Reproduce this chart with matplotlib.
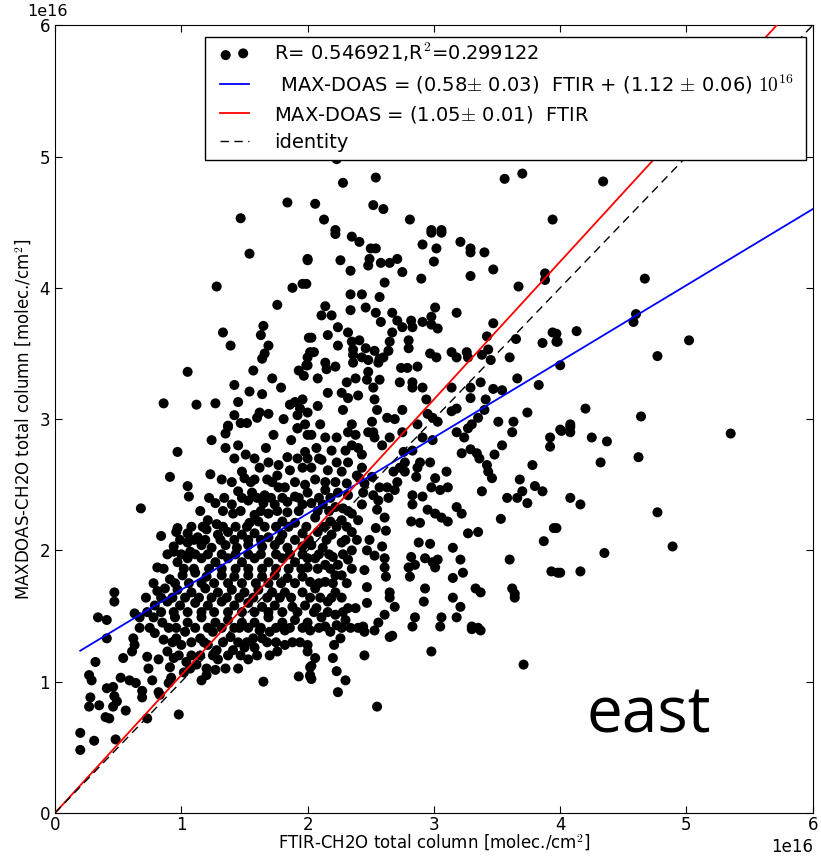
import numpy as np
import matplotlib
matplotlib.use("Agg")
import matplotlib.pyplot as plt
from matplotlib.patches import Rectangle

plt.rcParams['mathtext.fontset'] = 'cm'
plt.rcParams['font.family'] = ['DejaVu Sans']

SCALE = 1e16

# ---- data: (FTIR, MAX-DOAS) in units of 1e16 molec/cm2 ----
pts_top = [(1.47,4.53),(1.84,4.65),(2.23,4.98),(2.28,4.80),(2.54,4.84),(2.06,4.64),(2.52,4.63),
           (2.60,4.60),(2.13,4.52),(2.81,4.52),(2.98,4.44),(3.06,4.44),(3.56,4.83),(3.70,4.87),
           (3.94,4.52),(2.22,4.44),(4.34,4.81)]
pts_upleft = [(1.54,4.26),(2.00,4.22),(1.28,4.01),(1.88,4.00),(1.96,4.03),(1.76,3.87),(1.65,3.71),
              (1.33,3.66),(1.63,3.64),(1.39,3.56),(1.69,3.56),(1.66,3.50),(1.64,3.46),(2.01,3.62),
              (2.00,3.47),(2.00,3.41),(1.05,3.36),(1.57,3.37),(1.93,3.37),(1.97,3.33),(1.72,3.31),
              (1.42,3.26),(1.79,3.24),(1.54,3.21),(1.64,3.19),(0.86,3.12),(1.12,3.11),(1.27,3.12),
              (1.45,3.13),(1.86,3.11),(1.90,3.13),(1.96,3.15),(1.94,3.08),(1.42,3.03),(1.62,3.05),
              (1.69,3.04),(1.60,3.01),(1.92,3.03),(2.00,3.05),(1.81,3.00),(1.37,2.95),(1.47,2.97),
              (1.52,2.97),(1.92,2.93),(1.98,2.96)]
pts_upmid = [(2.22,4.41),(2.35,4.39),(2.41,4.35),(2.98,4.42),(3.06,4.42),(2.91,4.33),(3.02,4.30),
             (3.21,4.35),(3.29,4.30),(3.29,4.27),(3.40,4.27),(2.50,4.30),(2.54,4.30),(2.00,4.21),
             (2.26,4.21),(2.49,4.22),(2.48,4.17),(2.58,4.19),(2.65,4.19),(2.71,4.22),(2.75,4.12),
             (2.34,4.13),(3.00,4.20),(2.90,4.07),(3.29,4.09),(3.47,4.14),(2.61,4.04),(1.99,4.03),
             (2.34,3.95),(2.43,3.95),(2.57,3.93),(3.67,4.01),(3.88,4.11),(3.88,4.06),(2.14,3.86),
             (2.11,3.79),(2.19,3.79),(2.34,3.83),(2.46,3.85),(2.54,3.81),(2.58,3.74),(2.67,3.81),
             (2.71,3.75),(2.75,3.70),(2.82,3.75),(2.83,3.70),(2.91,3.74),(3.01,3.85),(2.98,3.78),
             (2.98,3.72),(3.03,3.69),(3.18,3.81),(3.47,3.73),(2.24,3.70),(2.32,3.66),(2.03,3.62),
             (2.16,3.64),(2.24,3.56),(2.35,3.59),(2.41,3.60),(2.36,3.53),(2.67,3.66),(2.65,3.59),
             (2.64,3.52),(2.80,3.60),(2.80,3.54),(2.46,3.54),(2.53,3.52),(2.57,3.46),(2.60,3.47),
             (2.02,3.51),(2.05,3.51),(1.99,3.41),(2.14,3.43),(2.15,3.38),(2.22,3.40),(2.36,3.49),
             (2.36,3.43),(2.43,3.47),(2.48,3.45),(2.48,3.36),(2.56,3.43),(2.97,3.50),(3.02,3.47),
             (3.14,3.51),(3.18,3.47),(3.26,3.51),(3.27,3.47),(3.38,3.49),(3.42,3.63),(3.43,3.53),
             (3.45,3.45),(3.60,3.47),(3.65,3.61),(3.86,3.58),(3.94,3.66),(3.97,3.59),(2.74,3.39),
             (2.79,3.39),(2.87,3.40),(2.08,3.31),(2.31,3.28),(2.38,3.31),(2.47,3.30),(2.57,3.30),
             (2.73,3.28),(2.83,3.28),(2.83,3.24),(2.91,3.24),(3.14,3.24),(3.29,3.24),(3.37,3.28),
             (3.47,3.23),(3.54,3.22),(3.66,3.31),(3.83,3.26),(2.16,3.20),(2.27,3.20),(2.40,3.18),
             (2.52,3.24),(2.32,3.16),(2.53,3.15),(2.94,3.15),(3.29,3.16),(3.41,3.15),(2.08,3.10),
             (2.28,3.07),(2.55,3.07),(2.75,3.07),(2.95,3.04),(2.99,3.01),(3.14,3.06),(3.18,3.08),
             (3.35,3.01),(3.40,3.07),(3.51,2.98),(3.63,2.98),(3.74,3.05),(2.10,2.96),(2.35,2.96),
             (2.51,2.98),(2.63,3.01),(2.69,3.00),(2.87,2.96),(3.03,2.98),(3.30,2.96)]
pts_right = [(4.67,4.07),(4.60,3.80),(4.58,3.74),(4.13,3.67),(3.97,3.65),(3.98,3.59),(5.02,3.60),
             (4.77,3.48),(4.00,3.41),(4.20,3.08),(4.64,3.02),(4.08,2.96),(4.00,2.92),(4.08,2.94),
             (4.01,2.91),(4.08,2.90),(4.25,2.86),(4.37,2.83),(5.35,2.89),(4.62,2.71),(4.32,2.67),
             (4.08,2.40),(4.16,2.35),(4.77,2.29),(3.97,2.17),(4.89,2.03),(4.35,1.98),(4.00,1.83),
             (4.16,1.84)]
pts_mid = [(3.92,2.86),(3.92,2.79),(3.62,2.90),(3.54,2.80),(3.48,2.73),(3.78,2.65),(3.68,2.54),
           (3.80,2.49),(3.86,2.45),(3.70,2.45),(3.66,2.40),(3.58,2.40),(3.74,2.36),(3.38,2.45),
           (3.53,2.24),(3.95,2.17),(3.87,2.07),(3.60,1.93),(3.93,1.84),(3.98,1.83),(3.62,1.71),
           (3.64,1.64),(3.64,1.67),(3.27,2.93),(3.29,2.77),(3.22,2.74),(3.34,2.74),(3.36,2.70),
           (3.42,2.65),(3.43,2.60),(3.46,2.55),(3.24,2.86),(3.18,2.90),(2.97,2.67),(3.10,2.60),
           (3.01,2.55),(2.98,2.48),(3.05,2.46),(3.11,2.48),(2.83,2.42),(2.91,2.41),(2.83,2.35),
           (2.95,2.31),(3.01,2.28),(3.06,2.25),(3.11,2.22),(3.18,2.33),(3.22,2.28),(2.82,2.22),
           (2.89,2.21),(3.27,2.13),(3.35,2.14),(2.88,2.06),(2.97,2.05),(3.15,2.02),(3.21,1.93),
           (2.82,1.95),(2.93,1.94),(2.99,1.91),(3.03,1.93),(2.80,1.87),(3.01,1.87),(2.85,1.89),
           (3.15,1.79),(3.23,1.83),(2.81,1.80),(3.33,1.71),(3.37,1.68),(2.93,1.71),(2.92,1.61),
           (3.15,1.64),(3.21,1.57),(2.65,1.68),(2.65,1.64),(2.69,1.57),(2.47,1.72),(2.47,1.60),
           (2.61,1.51),(2.85,1.49),(3.06,1.49),(3.18,1.49),(2.56,1.45),(2.44,1.42),(3.30,1.42),
           (3.35,1.41),(2.38,1.56),(2.61,1.94),(2.61,1.87),(2.62,1.80),(2.45,1.85),(2.53,1.96),
           (2.59,2.03),(2.49,2.08),(2.47,2.00),(2.61,2.25),(2.62,2.15),(2.54,2.17),(2.55,2.31),
           (2.64,2.40),(2.63,2.48),(2.69,2.46),(2.71,2.52),(2.68,2.60),(2.73,2.63),(2.77,2.60),
           (2.87,2.63),(2.89,2.67),(2.86,2.56),(2.83,2.76),(2.91,2.86),(2.99,2.84),(2.75,2.90),
           (2.76,2.75),(2.77,2.67),(2.57,2.48),(2.52,2.42),(2.56,2.38),(2.59,2.80),(2.65,2.86),
           (2.48,2.90),(2.43,2.73),(2.43,2.63),(2.41,2.55),(2.43,2.35),(2.40,2.23),(2.35,2.28),
           (2.35,2.14),(2.39,2.08),(2.35,2.00),(2.32,1.93),(2.24,1.89),(2.20,1.95),(2.14,1.89),
           (2.22,1.81),(2.27,1.81),(2.31,1.75),(2.14,1.76),(2.06,1.71),(2.22,1.68),(2.27,1.64),
           (2.16,1.61),(2.32,1.56),(2.07,1.56),(2.11,1.49),(2.22,1.51),(2.23,1.43),(2.40,1.41),
           (2.30,1.47),(2.02,1.76),(2.00,1.87),(2.02,1.64),(2.03,2.88),(2.14,2.86),(2.23,2.86),
           (2.32,2.90),(2.38,2.88),(2.52,2.90),(2.53,2.86),(2.07,2.78),(2.19,2.76),(2.30,2.76),
           (2.35,2.80),(2.40,2.78),(2.00,2.70),(2.11,2.69),(2.23,2.67),(2.32,2.67),(2.03,2.63),
           (2.16,2.61),(2.27,2.60),(2.39,2.57),(2.06,2.54),(2.22,2.52),(2.31,2.51),(2.45,2.51),
           (2.51,2.56),(2.00,2.44),(2.14,2.46),(2.24,2.44),(2.32,2.42),(2.44,2.44),(2.03,2.36),
           (2.12,2.35),(2.22,2.33),(2.28,2.32),(2.06,2.25),(2.18,2.22),(2.27,2.23),(2.08,2.14),
           (2.19,2.12),(2.27,2.06),(2.03,2.04),(2.12,2.02),(2.06,1.94)]
pts_core = [(0.97,2.75),(0.91,2.56),(1.05,2.49),(1.06,2.41),(0.68,2.32),(1.23,2.58),(1.32,2.54),
            (1.24,2.84),(1.35,2.89),(1.35,2.78),(1.45,2.80),(1.51,2.73),(1.37,2.94),(1.73,2.88),
            (1.67,2.78),(1.87,2.84),(1.92,2.93),(2.00,2.88),(1.98,2.75),(1.84,2.71),(1.77,2.65),
            (1.69,2.67),(1.62,2.63),(1.48,2.60),(1.86,2.61),(1.96,2.63),(1.50,2.55),(1.58,2.54),
            (1.68,2.54),(1.76,2.57),(1.82,2.48),(1.98,2.50),(1.45,2.45),(1.56,2.44),(1.66,2.42),
            (1.77,2.48),(1.90,2.41),(1.27,2.36),(1.40,2.35),(1.53,2.38),(1.65,2.36),(1.74,2.35),
            (1.84,2.37),(1.96,2.35),(1.41,2.28),(1.58,2.27),(1.69,2.28),(1.84,2.29),(1.21,2.23),
            (1.28,2.20),(1.54,2.21),(1.61,2.22),(1.80,2.22),(1.90,2.21),(0.84,2.11),(0.97,2.17),
            (0.96,2.14),(1.05,2.13),(1.13,2.10),(1.20,2.16),(1.29,2.12),(1.37,2.14),(1.48,2.12),
            (1.58,2.13),(1.69,2.10),(1.80,2.12),(1.96,2.13),(0.94,2.03),(0.94,1.99),(1.05,2.06),
            (1.07,1.99),(1.16,2.04),(1.24,2.02),(1.35,2.04),(1.44,2.02),(1.53,2.04),(1.64,2.03),
            (1.74,2.04),(1.84,2.02),(1.96,2.03),(0.81,1.87),(0.97,1.91),(1.05,1.94),(1.16,1.94),
            (1.27,1.91),(1.37,1.94),(1.48,1.91),(1.58,1.94),(1.69,1.91),(1.80,1.94),(1.90,1.91),
            (2.00,1.94),(0.91,1.78),(1.01,1.81),(1.11,1.83),(1.20,1.80),(1.32,1.81),(1.42,1.80),
            (1.53,1.81),(1.64,1.80),(1.74,1.81),(1.84,1.79),(1.96,1.80),(0.47,1.68),(0.47,1.61),
            (0.81,1.69),(0.87,1.71),(0.97,1.70),(1.08,1.68),(1.19,1.71),(1.29,1.68),(1.40,1.70),
            (1.50,1.68),(1.61,1.70),(1.72,1.68),(1.82,1.68),(1.96,1.68),(0.79,1.58),(0.89,1.61),
            (0.99,1.58),(1.11,1.60),(1.21,1.58),(1.32,1.61),(1.42,1.58),(1.53,1.60),(1.64,1.57),
            (1.74,1.58),(1.88,1.57),(1.98,1.58),(0.34,1.49),(0.41,1.47),(0.63,1.52),(0.67,1.49),
            (0.78,1.49),(0.85,1.45),(0.95,1.49),(1.05,1.45),(1.16,1.49),(1.27,1.45),(1.37,1.47),
            (1.48,1.45),(1.58,1.45),(1.69,1.49),(1.80,1.45),(1.90,1.47),(2.00,1.45)]
# estimated positions inside the solid black cluster
pts_dense = [(1.40,2.52),(1.55,2.52),(1.72,2.52),(1.90,2.52),(2.14,2.52),
             (1.42,2.70),(1.58,2.70),(1.92,2.70),(2.09,2.70),
             (1.22,2.40),(1.34,2.40),(1.48,2.40),(1.60,2.40),(1.71,2.40),(1.80,2.40),(1.93,2.40),
             (2.09,2.40),(2.18,2.40),
             (1.15,2.30),(1.33,2.30),(1.47,2.30),(1.63,2.30),(1.76,2.30),(1.93,2.30),(2.08,2.30),
             (2.17,2.30),(2.32,2.30),
             (1.08,2.18),(1.17,2.18),(1.33,2.18),(1.43,2.18),(1.52,2.18),(1.66,2.18),(1.75,2.18),
             (1.85,2.18),(1.99,2.18),(2.13,2.18),(2.23,2.18),(2.31,2.18),
             (0.99,2.08),(1.10,2.08),(1.19,2.08),(1.31,2.08),(1.42,2.08),(1.53,2.08),(1.63,2.08),
             (1.78,2.08),(1.90,2.08),(2.01,2.08),(2.15,2.08),(2.30,2.08),
             (0.89,1.97),(1.00,1.97),(1.11,1.97),(1.21,1.97),(1.32,1.97),(1.43,1.97),(1.53,1.97),
             (1.63,1.97),(1.75,1.97),(1.86,1.97),(1.96,1.97),(2.09,1.97),(2.17,1.97),(2.28,1.97),
             (0.86,1.86),(1.02,1.86),(1.10,1.86),(1.22,1.86),(1.32,1.86),(1.43,1.86),(1.53,1.86),
             (1.64,1.86),(1.75,1.86),(1.85,1.86),(1.95,1.86),(2.08,1.86),(2.18,1.86),(2.35,1.86),
             (0.78,1.75),(0.95,1.75),(1.06,1.75),(1.16,1.75),(1.26,1.75),(1.37,1.75),(1.48,1.75),
             (1.59,1.75),(1.69,1.75),(1.79,1.75),(1.90,1.75),(2.09,1.75),(2.20,1.75),
             (0.72,1.64),(0.84,1.64),(0.93,1.64),(1.03,1.64),(1.14,1.64),(1.24,1.64),(1.36,1.64),
             (1.46,1.64),(1.57,1.64),(1.68,1.64),(1.78,1.64),(1.87,1.64),(2.10,1.64),(2.19,1.64),
             (0.73,1.53),(0.84,1.53),(0.94,1.53),(1.05,1.53),(1.16,1.53),(1.26,1.53),(1.37,1.53),
             (1.48,1.53),(1.58,1.53),(1.69,1.53),(1.80,1.53),(1.92,1.53),(2.05,1.53),(2.16,1.53),
             (2.28,1.53),
             (0.75,1.41),(0.96,1.41),(1.11,1.41),(1.21,1.41),(1.32,1.41),(1.42,1.41),(1.53,1.41),
             (1.63,1.41),(1.75,1.41),(1.86,1.41),(1.96,1.41),(2.09,1.41),(2.34,1.41),
             (0.93,1.30),(1.08,1.30),(1.18,1.30),(1.33,1.30),(1.45,1.30),(1.52,1.30),(1.68,1.30),
             (1.75,1.30),(1.94,1.30),
             (0.98,1.20),(1.15,1.20),(1.25,1.20),(1.37,1.20),(1.47,1.20),(1.60,1.20),(1.70,1.20),
             (1.07,1.10),(1.20,1.10),(1.35,1.10),(1.45,1.10)]
pts_low = [(0.41,1.33),(0.32,1.15),(0.27,1.05),(0.29,1.01),(0.28,0.88),(0.27,0.81),(0.35,0.82),
           (0.20,0.61),(0.20,0.48),(0.31,0.55),(0.48,0.56),(0.41,0.95),(0.46,0.96),(0.47,0.89),
           (0.49,0.85),(0.46,0.81),(0.56,0.78),(0.40,0.73),(0.43,0.72),(0.52,1.03),(0.59,1.01),
           (0.64,0.99),(0.69,0.93),(0.69,0.88),(0.54,1.18),(0.61,1.23),(0.63,1.28),(0.62,1.33),
           (0.67,1.41),(0.73,0.72),(0.73,1.19),(0.74,1.10),(0.77,1.01),(0.79,1.37),(0.82,1.17),
           (0.82,0.92),(0.83,0.90),(0.86,1.32),(0.89,1.23),(0.90,1.41),(0.91,1.11),(0.92,1.03),
           (0.90,0.99),(0.94,1.18),(0.98,0.75),(0.96,1.33),(1.00,1.28),(1.02,1.07),(1.03,1.38),
           (1.04,1.15),(1.08,1.20),(1.12,1.13),(1.15,1.33),(1.16,1.01),(1.20,1.05),(1.21,1.28),
           (1.25,1.38),(1.27,1.09),(1.28,1.24),(1.29,1.17),(1.39,1.34),(1.41,1.24),(1.46,1.41),
           (1.50,1.26),(1.53,1.17),(1.57,1.33),(1.58,1.26),(1.64,1.33),(1.65,1.00),(1.62,1.39),
           (1.70,1.38),(1.76,1.23),(1.82,1.28),(1.82,1.39),(1.88,1.30),(1.93,1.04),(2.00,1.28),
           (2.00,1.23),(2.02,1.04),(2.02,1.11),(2.02,1.39),(2.06,1.18),(2.03,1.12),(2.02,1.05),
           (2.03,1.02),(2.14,1.42),(2.18,1.38),(2.27,1.41),(2.26,1.33),(2.21,1.28),(2.20,1.18),
           (2.23,1.08),(2.30,1.01),(2.24,0.92),(2.43,1.41),(2.45,1.38),(2.53,1.39),(2.45,1.20),
           (2.55,0.81),(2.65,1.34),(2.67,1.35),(2.83,1.42),(2.98,1.23),(3.05,1.42),(3.30,1.40),
           (3.37,1.39),(3.71,1.13)]

ALL = np.array(pts_top + pts_upleft + pts_upmid + pts_right + pts_mid + pts_core
               + pts_dense + pts_low)
ftir = ALL[:, 0]
maxdoas = ALL[:, 1]

R_value = 0.546921
R2_value = 0.299122
fit_slope, fit_slope_err = 0.58, 0.03
fit_icpt, fit_icpt_err = 1.12, 0.06
orig_slope, orig_slope_err = 1.05, 0.01
fit_x = np.array([0.2, 6.0])
ident_x = np.array([0.0, 6.0])

fig = plt.figure(figsize=(8.21, 8.59), dpi=100)
ax = fig.add_axes([0.067, 0.0536, 0.923, 0.917])

ax.scatter(ftir * SCALE, maxdoas * SCALE, s=52, c='black', edgecolors='none', zorder=2,
           label='R= %.6f,R$^2$=%.6f' % (R_value, R2_value))
ax.plot(fit_x * SCALE, (fit_slope * fit_x + fit_icpt) * SCALE, color='blue', lw=1.3, zorder=3,
        label=' MAX-DOAS = (%.2f$\\pm$ %.2f)  FTIR + (%.2f $\\pm$ %.2f) $10^{16}$'
        % (fit_slope, fit_slope_err, fit_icpt, fit_icpt_err))
ax.plot(ident_x * SCALE, orig_slope * ident_x * SCALE, color='red', lw=1.3, zorder=3,
        label='MAX-DOAS = (%.2f$\\pm$ %.2f)  FTIR' % (orig_slope, orig_slope_err))
ax.plot(ident_x * SCALE, ident_x * SCALE, color='black', ls=(0, (6, 4)), lw=1.0, zorder=3,
        label='identity')

ax.set_xlim(0, 6 * SCALE)
ax.set_ylim(0, 6 * SCALE)
ax.tick_params(direction='in', top=True, right=True, labelsize=12, length=5)
ax.tick_params(axis='x', pad=2)
ax.xaxis.get_offset_text().set_fontsize(12)
ax.yaxis.get_offset_text().set_fontsize(11.5)
ax.yaxis.get_offset_text().set_x(-0.036)
ax.yaxis.OFFSETTEXTPAD = 7
ax.set_xlabel('FTIR-CH2O total column [molec./cm$^2$]', fontsize=12, labelpad=-1)
ax.set_ylabel('MAXDOAS-CH2O total column [molec./cm$^2$]', fontsize=12)

# legend frame (wider horizontal padding than the vertical one, as in the original)
ax.add_patch(Rectangle((0.198, 0.829), 0.793, 0.156, transform=ax.transAxes,
                       facecolor='white', edgecolor='black', lw=1.0, zorder=4))
leg = ax.legend(loc='upper left', bbox_to_anchor=(0.2124, 0.985), borderaxespad=0,
                scatterpoints=2, fontsize=14, frameon=False, borderpad=0.2,
                handlelength=1.5, handletextpad=1.3, labelspacing=0.42)
leg.set_zorder(5)

ax.text(4.21 * SCALE, 0.61 * SCALE, 'east', fontsize=46, family=['Open Sans', 'DejaVu Sans'],
        ha='left', va='baseline')

fig.savefig('out.png', dpi=100)
